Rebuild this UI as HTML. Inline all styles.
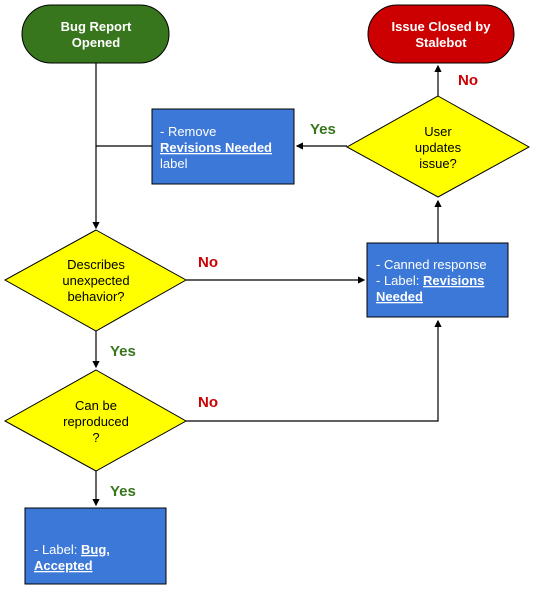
<!DOCTYPE html><html><head><style>body{margin:0;background:#fff}svg{display:block}text{font-family:"Liberation Sans",Arial,sans-serif;font-size:13px}</style></head><body>
<svg width="536" height="591" viewBox="0 0 536 591" xmlns="http://www.w3.org/2000/svg">
<defs><marker id="a" markerWidth="6" markerHeight="6" refX="5" refY="3" orient="auto"><path d="M0,0L6,3L0,6z" fill="#000"/></marker></defs>
<g stroke="#000" stroke-width="1.2" fill="none">
<path d="M96,63V228" marker-end="url(#a)"/>
<path d="M96,146H152"/>
<path d="M347,146H297" marker-end="url(#a)"/>
<path d="M438,96V66" marker-end="url(#a)"/>
<path d="M438,243V201" marker-end="url(#a)"/>
<path d="M186,280H364" marker-end="url(#a)"/>
<path d="M96,331V367" marker-end="url(#a)"/>
<path d="M186,421H438V321" marker-end="url(#a)"/>
<path d="M96,471V505" marker-end="url(#a)"/>
</g>
<rect x="22" y="5" width="147" height="58" rx="29" fill="#38761d" stroke="#000"/>
<rect x="368" y="5" width="146" height="58" rx="29" fill="#cc0000" stroke="#000"/>
<rect x="152" y="109" width="142" height="75" fill="#3c78d8" stroke="#000"/>
<polygon points="438,96 529,147 438,197 347,147" fill="#ff0" stroke="#000"/>
<polygon points="96,230 186,280 96,331 5,280" fill="#ff0" stroke="#000"/>
<rect x="367" y="243" width="141" height="74" fill="#3c78d8" stroke="#000"/>
<polygon points="96,370 186,421 96,471 5,421" fill="#ff0" stroke="#000"/>
<rect x="25" y="508" width="141" height="76" fill="#3c78d8" stroke="#000"/>
<g fill="#fff" font-weight="bold" text-anchor="middle">
<text x="96" y="31">Bug Report</text><text x="96" y="47">Opened</text>
<text x="441" y="31">Issue Closed by</text><text x="441" y="47">Stalebot</text>
</g>
<g fill="#fff">
<text x="160" y="136">- Remove</text>
<text x="160" y="152" font-weight="bold" text-decoration="underline">Revisions Needed</text>
<text x="160" y="168">label</text>
<text x="376" y="269">- Canned response</text>
<text x="376" y="285">- Label: <tspan font-weight="bold" text-decoration="underline">Revisions</tspan></text>
<text x="376" y="301" font-weight="bold" text-decoration="underline">Needed</text>
<text x="34" y="554">- Label: <tspan font-weight="bold" text-decoration="underline">Bug,</tspan></text>
<text x="34" y="570" font-weight="bold" text-decoration="underline">Accepted</text>
</g>
<g fill="#000" text-anchor="middle">
<text x="438" y="136">User</text><text x="438" y="152">updates</text><text x="438" y="168">issue?</text>
<text x="96" y="269">Describes</text><text x="96" y="285">unexpected</text><text x="96" y="301">behavior?</text>
<text x="96" y="410">Can be</text><text x="96" y="426">reproduced</text><text x="96" y="442">?</text>
</g>
<g font-weight="bold">
<text x="458" y="85" fill="#cc0000" style="font-size:15px">No</text>
<text x="310" y="134" fill="#38761d" style="font-size:15px">Yes</text>
<text x="198" y="267" fill="#cc0000" style="font-size:15px">No</text>
<text x="110" y="356" fill="#38761d" style="font-size:15px">Yes</text>
<text x="198" y="407" fill="#cc0000" style="font-size:15px">No</text>
<text x="110" y="496" fill="#38761d" style="font-size:15px">Yes</text>
</g>
</svg></body></html>
